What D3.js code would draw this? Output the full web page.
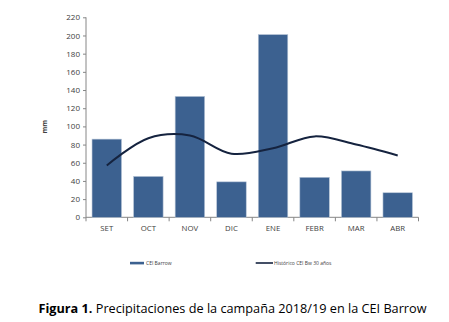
<!DOCTYPE html>
<html><head><meta charset="utf-8">
<script src="https://cdn.jsdelivr.net/npm/d3@7"></script>
<style>body{margin:0;background:#fff}svg{display:block}</style>
</head><body>
<svg id="c" width="449" height="322"></svg>
<script>
const categories = ["SET","OCT","NOV","DIC","ENE","FEBR","MAR","ABR"];
const barValues = [86,45,133,39,201,44,51,27];
const lineValues = [57,87,90,70,76,89,80,68];
const yTicks = [0,20,40,60,80,100,120,140,160,180,200,220];
const barName = "CEI Barrow";
const lineName = "Histórico CEI Bw 30 años";
const yTitle = "mm";

const svg = d3.select("#c");
const x = d3.scaleBand().domain(categories).range([86,418.5]).paddingInner(0.29).paddingOuter(0.145);
const xb = d3.scaleBand().domain(categories).range([86,418.5]);
const y = d3.scaleLinear().domain([0,220]).range([217.3,17.3]);
const font = "'Open Sans', 'Liberation Sans', sans-serif";
const gray = "#868686";

// y axis
const ya = svg.append("g").attr("transform","translate(86,0)")
  .call(d3.axisLeft(y).tickValues(yTicks).tickSize(3).tickPadding(3));
ya.select(".domain").attr("stroke",gray).attr("d","M0,17.3V217.3");
ya.selectAll(".tick line").attr("stroke",gray);
ya.selectAll("text").attr("font-family",font).attr("font-size","8px").attr("fill","#404040");

// x axis
const xa = svg.append("g").attr("transform","translate(0,217.3)")
  .call(d3.axisBottom(xb).tickSize(0).tickPadding(8));
xa.select(".domain").attr("stroke",gray).attr("d","M86,0H418.5");
xa.selectAll("text").attr("font-family",font).attr("font-size","7.8px").attr("fill","#404040");
svg.append("g").selectAll("line").data(d3.range(categories.length+1)).join("line")
  .attr("x1",i=>86+i*xb.step()).attr("x2",i=>86+i*xb.step())
  .attr("y1",217.3).attr("y2",221.3).attr("stroke",gray);

// bars
svg.append("g").selectAll("rect").data(barValues).join("rect")
  .attr("x",(d,i)=>x(categories[i])).attr("width",x.bandwidth())
  .attr("y",d=>y(d)).attr("height",d=>y(0)-y(d))
  .attr("fill","#3c6190").attr("stroke","#b8c6d8").attr("stroke-width",0.6);

// line
const line = d3.line().x((d,i)=>xb(categories[i])+xb.bandwidth()/2).y(d=>y(d)).curve(d3.curveCatmullRom.alpha(0.5));
svg.append("path").datum(lineValues).attr("d",line).attr("fill","none")
  .attr("stroke","#15233f").attr("stroke-width",2);

// y title
svg.append("text").attr("transform","translate(47,126.7) rotate(-90)").attr("text-anchor","middle")
  .attr("font-family",font).attr("font-size","7px").attr("font-weight","bold").attr("fill","#404040").text(yTitle);

// legend
const lg = svg.append("g");
lg.append("rect").attr("x",130).attr("y",261.8).attr("width",14).attr("height",2.6).attr("fill","#3c6190");
lg.append("text").attr("x",146).attr("y",265).attr("font-family",font).attr("font-size","5px").attr("fill","#404040").text(barName);
lg.append("line").attr("x1",255.7).attr("x2",273).attr("y1",263).attr("y2",263).attr("stroke","#15233f").attr("stroke-width",1.6);
lg.append("text").attr("x",274).attr("y",265).attr("font-family",font).attr("font-size","5px").attr("fill","#404040").text(lineName);

// caption
const cap = svg.append("text").attr("x",38.5).attr("y",313).attr("font-family","'Open Sans', sans-serif").attr("font-size","12px").attr("fill","#000")
  .attr("textLength",388).attr("lengthAdjust","spacingAndGlyphs");
cap.append("tspan").attr("font-weight","bold").text("Figura 1.");
cap.append("tspan").text(" Precipitaciones de la campaña 2018/19 en la CEI Barrow");
</script>
</body></html>
